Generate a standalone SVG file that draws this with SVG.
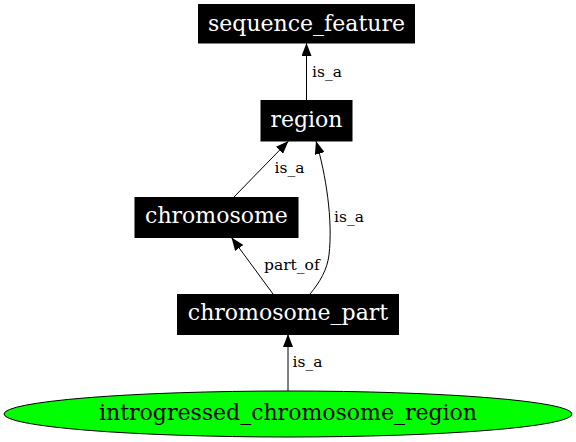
<svg xmlns="http://www.w3.org/2000/svg" width="576" height="442" viewBox="0 0 576 442">
<style>
.box{fill:#000;stroke:#000;stroke-width:1}
.nt{font-family:"DejaVu Serif",serif;font-size:22px;fill:#fff;text-anchor:middle}
.et{font-family:"DejaVu Serif",serif;font-size:15.5px;fill:#000}
.edge{fill:none;stroke:#000;stroke-width:1;marker-end:url(#ah)}
</style>
<defs>
<marker id="ah" markerUnits="userSpaceOnUse" markerWidth="13" markerHeight="10" viewBox="0 0 13 10" refX="13" refY="5" orient="auto">
<path d="M0,0 L13,5 L0,10 z" fill="#000"/>
</marker>
</defs>
<rect width="576" height="442" fill="#fff"/>
<g id="connectors">
<path class="edge" d="M306.5,100 L306.5,43"/>
<text class="et" x="312" y="77">is_a</text>
<path class="edge" d="M234,197 L288.5,141"/>
<text class="et" x="274.5" y="173">is_a</text>
<path class="edge" d="M310,294 C320,282 327,270 329,255 C333,220 326,175 316,141"/>
<text class="et" x="334" y="222">is_a</text>
<path class="edge" d="M273,294 L231.5,237.5"/>
<text class="et" x="264" y="270">part_of</text>
<path class="edge" d="M288,391 L288,334"/>
<text class="et" x="292.5" y="367">is_a</text>
</g>
<g id="sequence_feature">
<rect class="box" x="198.5" y="4.5" width="216" height="38.5"/>
<text class="nt" x="306.5" y="30.5">sequence_feature</text>
</g>
<g id="region">
<rect class="box" x="261" y="100.5" width="91" height="40.5"/>
<text class="nt" x="306.5" y="126.5">region</text>
</g>
<g id="chromosome">
<rect class="box" x="135" y="197.5" width="163" height="40"/>
<text class="nt" x="216.5" y="223">chromosome</text>
</g>
<g id="chromosome_part">
<rect class="box" x="177.5" y="294.5" width="221" height="40"/>
<text class="nt" x="288" y="320">chromosome_part</text>
</g>
<g id="introgressed_chromosome_region">
<ellipse cx="288" cy="414" rx="284" ry="23" fill="#00ff00" stroke="#000" stroke-width="1"/>
<text class="nt" x="288" y="419.5" style="fill:#000">introgressed_chromosome_region</text>
</g>
</svg>
